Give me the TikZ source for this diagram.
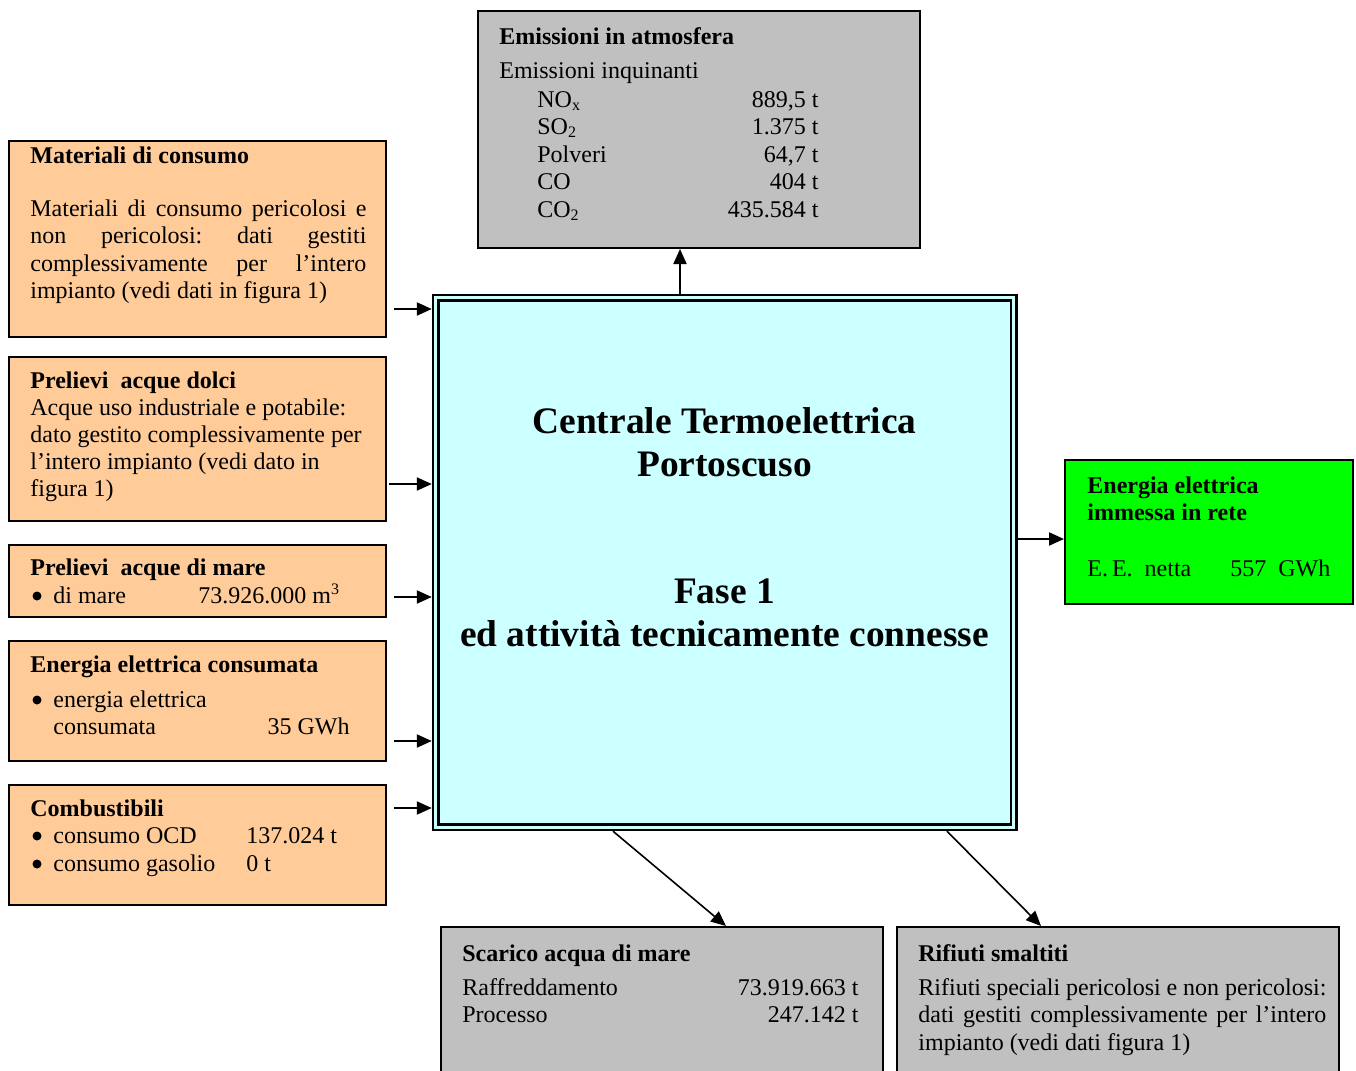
\documentclass[tikz,border=0pt]{standalone}
\usepackage{fontspec}
\setmainfont{Liberation Serif}
\usetikzlibrary{arrows.meta,fit,calc}
\definecolor{orangebox}{HTML}{FFCC99}
\definecolor{graybox}{HTML}{C0C0C0}
\definecolor{greenbox}{HTML}{00FF00}
\definecolor{cyanbox}{HTML}{CCFFFF}
\newcommand{\nsp}{\spaceskip=\fontdimen2\font\xspaceskip=\fontdimen2\font\relax}
\begin{document}
\begin{tikzpicture}[x=0.5pt,y=-0.5pt,
  box/.style={draw=black, line width=1pt, inner sep=0pt},
  inbox/.style={box, fill=orangebox},
  outbox/.style={box, fill=graybox},
  tx/.style={inner sep=0pt, anchor=base west, font=\fontsize{12}{13.8}\selectfont},
  txr/.style={tx, anchor=base east},
  hd/.style={tx, font=\fontsize{12}{13.8}\selectfont\bfseries},
  big/.style={inner sep=0pt, anchor=base, align=center, text width=295pt, font=\fontsize{18.7}{21.6}\selectfont\bfseries},
  bul/.style={circle, fill=black, inner sep=0pt, minimum size=4.5pt},
  arr/.style={line width=1pt, -{Triangle[length=7.5pt,width=6.5pt]}},
  darr/.style={line width=0.8pt, -{Triangle[length=7.5pt,width=6.5pt]}}]
\useasboundingbox (0,0) rectangle (1356,1071);
\clip (0,0) rectangle (1356,1071);
\fill[white] (0,0) rectangle (1356,1071);

% central block
\node[box, fill=cyanbox, line width=1.2pt, fit={(433,295) (1016.5,830)}] (central) {};
\node[box, line width=1.4pt, fit={(438.5,300.5) (1011,824.5)}] (centralin) {};
\node[big] (ct1) at (724.5,433) {\nsp Centrale Termoelettrica\\Portoscuso};
\node[big] (ct2) at (724.5,603) {\nsp Fase 1\\ed attività tecnicamente connesse};

% emissions
\node[outbox, fit={(478,11) (920,248)}] (emis) {};
\node[hd] (e0) at (499,44) {Emissioni in atmosfera};
\node[tx] (e1) at (499,78) {Emissioni inquinanti};
\node[tx] (e2) at (537,107) {NO\textsubscript{x}};
\node[tx] (e3) at (537,134) {SO\textsubscript{2}};
\node[tx] (e4) at (537,162) {Polveri};
\node[tx] (e5) at (537,189) {CO};
\node[tx] (e6) at (537,217) {CO\textsubscript{2}};
\node[txr] (v2) at (819,107) {889,5 t};
\node[txr] (v3) at (819,134) {1.375 t};
\node[txr] (v4) at (819,162) {64,7 t};
\node[txr] (v5) at (819,189) {404 t};
\node[txr] (v6) at (819,217) {435.584 t};

% materiali
\node[inbox, fit={(9,141) (386,337)}] (mat) {};
\node[hd] (m0) at (30,163) {Materiali di consumo};
\node[tx, text width=168pt, align=justify] (m1) at (30,216) {\frenchspacing Materiali di consumo pericolosi e\linebreak non pericolosi: dati gestiti\linebreak complessivamente per l’intero\linebreak impianto (vedi dati in figura 1)};

% acque dolci
\node[inbox, fit={(9,357) (386,521)}] (dolci) {};
\node[hd] (d0) at (30,388) {Prelievi\ \ acque dolci};
\node[tx, text width=175pt, align=left, font=\fontsize{12}{13.6}\selectfont] (d1) at (30,415) {\nsp Acque uso industriale e potabile:\\dato gestito complessivamente per\\l’intero impianto (vedi dato in\\figura 1)};

% acque di mare
\node[inbox, fit={(9,545) (386,617)}] (mare) {};
\node[hd] (r0) at (30,575) {Prelievi\ \ acque di mare};
\node[bul] (r1) at (37,596) {};
\node[tx] (r2) at (53,603) {di mare};
\node[tx] (r3) at (198,603) {73.926.000 m\textsuperscript{3}};

% energia consumata
\node[inbox, fit={(9,641) (386,761)}] (encons) {};
\node[hd] (c0) at (30,672) {Energia elettrica consumata};
\node[bul] (c1) at (37,700) {};
\node[tx] (c2) at (53,707) {energia elettrica};
\node[tx] (c3) at (53,734) {consumata};
\node[txr] (c4) at (350,734) {35 GWh};

% combustibili
\node[inbox, fit={(9,785) (386,905)}] (comb) {};
\node[hd] (b0) at (30,816) {Combustibili};
\node[bul] (b1) at (37,836) {};
\node[tx] (b2) at (53,843) {consumo OCD};
\node[tx] (b3) at (246,843) {137.024 t};
\node[bul] (b4) at (37,864) {};
\node[tx] (b5) at (53,871) {consumo gasolio};
\node[tx] (b6) at (246,871) {0 t};

% energia immessa
\node[box, fill=greenbox, fit={(1065,460) (1353,604)}] (imm) {};
\node[hd, text width=130pt, align=left] (i0) at (1087,493) {\nsp Energia elettrica\\immessa in rete};
\node[tx] (i1) at (1087,576) {E.\,E.\ \ netta};
\node[tx] (i2) at (1230,576) {557\ \ GWh};

% scarico
\node[outbox, fit={(441,927) (883,1095)}] (scar) {};
\node[hd] (s0) at (462,961) {Scarico acqua di mare};
\node[tx] (s1) at (462,995) {Raffreddamento};
\node[tx] (s2) at (462,1022) {Processo};
\node[txr] (s3) at (859,995) {73.919.663 t};
\node[txr] (s4) at (859,1022) {247.142 t};

% rifiuti
\node[outbox, fit={(897,927) (1339,1095)}] (rif) {};
\node[hd] (f0) at (918,961) {Rifiuti smaltiti};
\node[tx, text width=204pt, align=justify] (f1) at (918,995) {\frenchspacing Rifiuti speciali pericolosi e non pericolosi:\linebreak dati gestiti complessivamente per l’intero\linebreak impianto (vedi dati figura 1)};

% connectors
\draw[arr] (central.north -| 680,0) -- (emis.south -| 680,0);
\draw[arr] ($(mat.east |- 0,309)+(7,0)$) -- (central.west |- 0,309);
\draw[arr] ($(dolci.east |- 0,484)+(2,0)$) -- (central.west |- 0,484);
\draw[arr] ($(mare.east |- 0,597)+(7,0)$) -- (central.west |- 0,597);
\draw[arr] ($(encons.east |- 0,741)+(7,0)$) -- (central.west |- 0,741);
\draw[arr] ($(comb.east |- 0,808)+(7,0)$) -- (central.west |- 0,808);
\draw[arr] (central.east |- 0,539) -- (imm.west |- 0,539);
\draw[darr] (central.south -| 613,0) -- (scar.north -| 726,0);
\draw[darr] (central.south -| 947,0) -- (rif.north -| 1041,0);
\end{tikzpicture}
\end{document}
